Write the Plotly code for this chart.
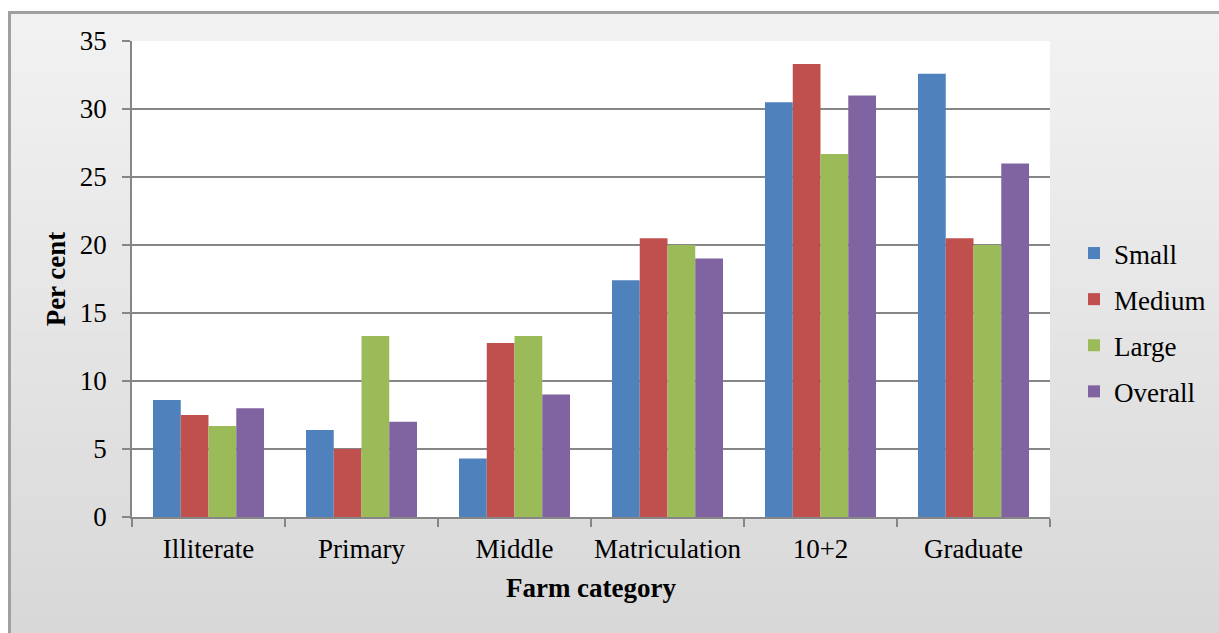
import plotly.graph_objects as go

# Education level of farmers by farm category (per cent)
categories = ["Illiterate", "Primary", "Middle", "Matriculation", "10+2", "Graduate"]
small = [8.6, 6.4, 4.3, 17.4, 30.5, 32.6]
medium = [7.5, 5.0, 12.8, 20.5, 33.3, 20.5]
large = [6.7, 13.3, 13.3, 20.0, 26.7, 20.0]
overall = [8.0, 7.0, 9.0, 19.0, 31.0, 26.0]

series = [
    ("Small", small, "#4F81BD"),
    ("Medium", medium, "#C0504D"),
    ("Large", large, "#9BBB59"),
    ("Overall", overall, "#8064A2"),
]

W, H = 1219, 633
ML, MR, MT, MB = 132, 169, 41, 116
PW, PH = W - ML - MR, H - MT - MB
FONT = "Liberation Serif"
FS = 27


def px_x(px):
    return (px - ML) / PW


def px_y(py):
    return (H - MB - py) / PH


fig = go.Figure()
for i, (name, vals, color) in enumerate(series):
    fig.add_trace(go.Bar(
        x=categories, y=vals, name=name,
        marker=dict(color=color, line=dict(width=0)),
        legendgroup=f"g{i}",
    ))

# chart-area background: vertical grey gradient, then white plot area
shapes = []
n = 60
top_px, bot_px = 12, H
c0, c1 = (242, 242, 242), (216, 216, 216)
for k in range(n):
    t = k / (n - 1)
    col = tuple(round(a + (b - a) * t) for a, b in zip(c0, c1))
    y0 = top_px + (bot_px - top_px) * k / n
    y1 = top_px + (bot_px - top_px) * (k + 1) / n + 0.6
    shapes.append(dict(
        type="rect", xref="paper", yref="paper", layer="below",
        x0=px_x(9), x1=px_x(W + 2), y0=px_y(y1), y1=px_y(y0),
        fillcolor=f"rgb{col}", line=dict(width=0),
    ))
shapes.append(dict(
    type="rect", xref="x domain", yref="y domain", layer="below",
    x0=0, x1=1, y0=0, y1=1, fillcolor="white", line=dict(width=0),
))
# outer frame (top and left edges)
shapes.append(dict(type="line", xref="paper", yref="paper", layer="above",
                   x0=px_x(8), x1=px_x(W + 2), y0=px_y(12.5), y1=px_y(12.5),
                   line=dict(color="#a0a0a0", width=3)))
shapes.append(dict(type="line", xref="paper", yref="paper", layer="above",
                   x0=px_x(9.5), x1=px_x(9.5), y0=px_y(11), y1=px_y(H + 2),
                   line=dict(color="#a0a0a0", width=3)))

fig.update_layout(
    width=W, height=H,
    margin=dict(l=ML, r=MR, t=MT, b=MB, pad=0, autoexpand=False),
    paper_bgcolor="white",
    plot_bgcolor="rgba(0,0,0,0)",
    barmode="group",
    bargap=0.2745,
    bargroupgap=0,
    font=dict(family=FONT, size=FS, color="black"),
    shapes=shapes,
    showlegend=True,
    legend=dict(
        x=px_x(1074), y=px_y(229), xanchor="left", yanchor="top",
        bgcolor="rgba(0,0,0,0)", borderwidth=0,
        traceorder="grouped", tracegroupgap=8,
        itemwidth=30,
        font=dict(family=FONT, size=FS, color="black"),
    ),
    xaxis=dict(
        title=dict(text="<b>Farm category</b>", font=dict(family=FONT, size=FS), standoff=15),
        showline=True, linecolor="#868686", linewidth=1.5,
        ticks="outside", ticklen=8, tickcolor="#868686", tickwidth=1.5,
        tickson="boundaries", showgrid=False,
        tickfont=dict(family=FONT, size=FS),
        tickangle=0, automargin=False,
        ticklabelstandoff=7,
    ),
    yaxis=dict(
        title=dict(text="<b>Per cent</b>", font=dict(family=FONT, size=FS), standoff=6),
        range=[0, 35], dtick=5, tick0=0,
        showline=True, linecolor="#868686", linewidth=1.5,
        ticks="outside", ticklen=8, tickcolor="#868686", tickwidth=1.5,
        showgrid=True, gridcolor="#868686", gridwidth=1.5,
        zeroline=False, automargin=False,
        tickfont=dict(family=FONT, size=FS),
        ticklabelstandoff=10,
    ),
)

fig.write_html("out.html")
